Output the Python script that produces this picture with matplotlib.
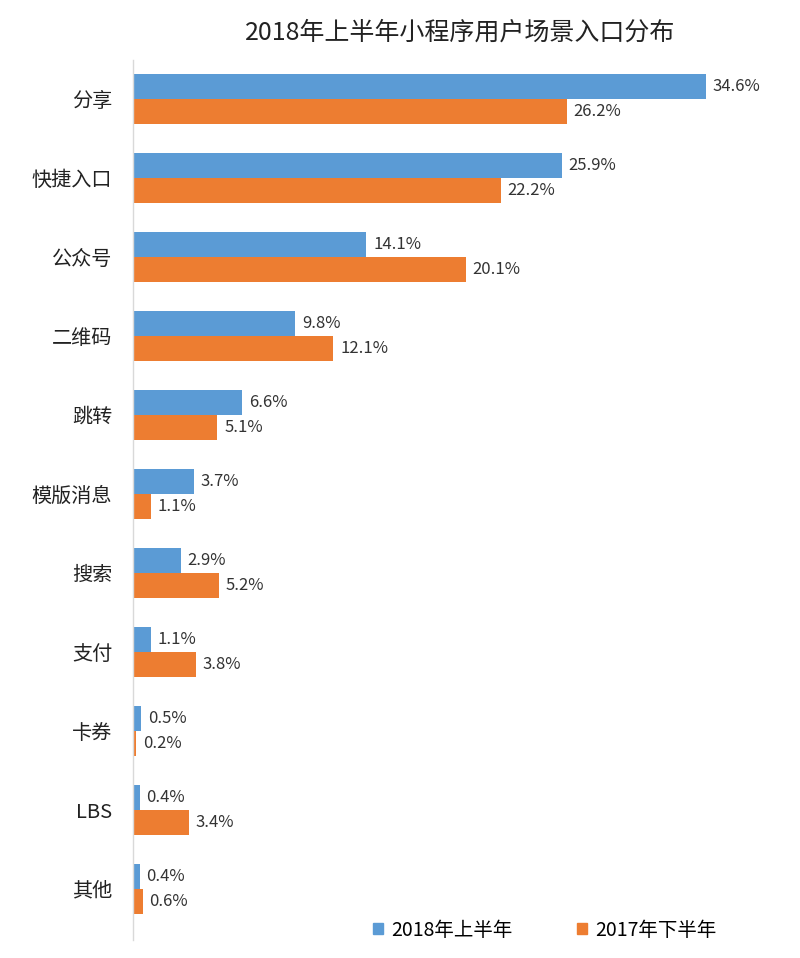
import matplotlib
matplotlib.use("Agg")
import matplotlib.pyplot as plt
from matplotlib.patches import Patch

plt.rcParams['font.family'] = ['Noto Sans CJK SC', 'DejaVu Sans']

categories = ["分享", "快捷入口", "公众号", "二维码", "跳转", "模版消息", "搜索", "支付", "卡券", "LBS", "其他"]
h1_2018 = [34.6, 25.9, 14.1, 9.8, 6.6, 3.7, 2.9, 1.1, 0.5, 0.4, 0.4]
h2_2017 = [26.2, 22.2, 20.1, 12.1, 5.1, 1.1, 5.2, 3.8, 0.2, 3.4, 0.6]
series_names = ["2018年上半年", "2017年下半年"]
colors = ["#5B9BD5", "#ED7D31"]

W, H = 800, 958
fig = plt.figure(figsize=(W / 100, H / 100), dpi=100)
left, right, top, bottom = 133, 780, 60, 940
ax = fig.add_axes([left / W, 1 - bottom / H, (right - left) / W, (bottom - top) / H])

bh = 0.315
y = list(range(len(categories)))
ax.barh([i - bh / 2 for i in y], h1_2018, height=bh, color=colors[0])
ax.barh([i + bh / 2 for i in y], h2_2017, height=bh, color=colors[1])

for i in y:
    ax.text(h1_2018[i] + 0.4, i - bh / 2, f"{h1_2018[i]}%", va="center", ha="left", fontsize=12, color="#333333")
    ax.text(h2_2017[i] + 0.4, i + bh / 2, f"{h2_2017[i]}%", va="center", ha="left", fontsize=12, color="#333333")

ax.set_xlim(0, 39.07)
ax.set_ylim(10.65, -0.494)
ax.set_yticks(y)
ax.set_yticklabels(categories, fontsize=14.5, color="#222222")
ax.tick_params(axis="y", length=0, pad=15)
ax.set_xticks([])
for s in ["top", "right", "bottom"]:
    ax.spines[s].set_visible(False)
ax.spines["left"].set_color("#d9d9d9")
ax.spines["left"].set_linewidth(1)

fig.text(460 / W, 1 - 33 / H, "2018年上半年小程序用户场景入口分布", ha="center", va="center", fontsize=18, color="#222222")

handles = [Patch(color=c) for c in colors]
fig.legend(handles, series_names, loc="center left", bbox_to_anchor=(363 / W, 1 - 930 / H), ncol=2,
           frameon=False, fontsize=14, handlelength=0.55, handleheight=0.55, columnspacing=3.3, handletextpad=0.4,
           borderpad=0)

fig.savefig("out.png", dpi=100)
